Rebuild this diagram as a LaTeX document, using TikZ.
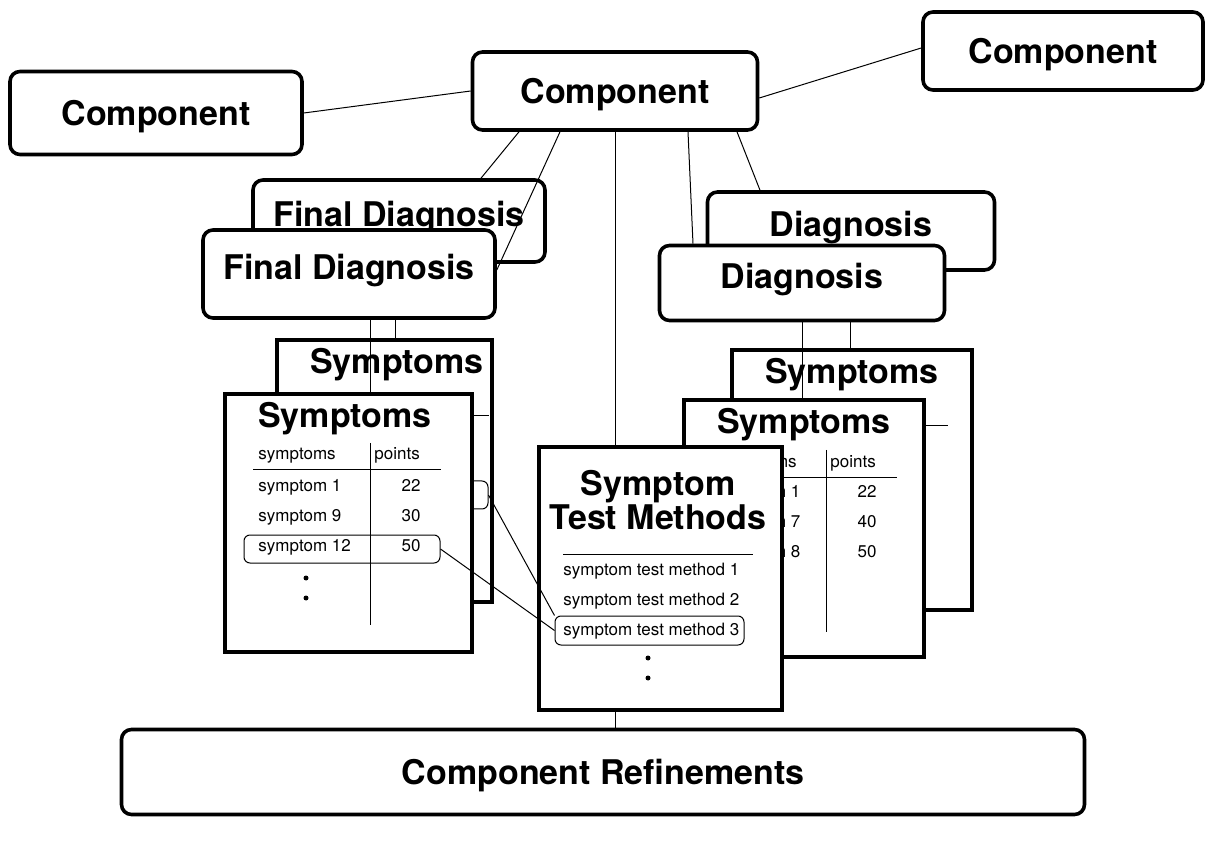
\documentclass[tikz,border=0pt]{standalone}
\usepackage{fontspec}
\setmainfont{TeX Gyre Heros}
\usetikzlibrary{positioning, calc}
\tikzset{
  compbox/.style={draw, line width=1.8pt, rounded corners=5pt, fill=white, inner sep=0pt, text depth=0pt, font=\bfseries\fontsize{17}{20}\selectfont},
  diagbox/.style={compbox, text depth=7pt},
  card/.style={draw, line width=1.8pt, fill=white, inner sep=0pt, anchor=north west},
  cardtitle/.style={font=\bfseries\fontsize{17}{20}\selectfont, inner sep=0pt, anchor=base},
  rowtext/.style={font=\fontsize{8.5}{10}\selectfont, inner sep=0pt},
  hilite/.style={draw, line width=0.5pt, rounded corners=3pt, inner sep=0pt},
  tabline/.style={line width=0.4pt},
  link/.style={line width=0.5pt},
  dot/.style={circle, fill, inner sep=0pt, minimum size=2.5pt},
}
\begin{document}
\begin{tikzpicture}[x=0.5pt, y=-0.5pt]
  \useasboundingbox[fill=white] (0,0) rectangle (1205,844);

  % diagnosis boxes (back ones first)
  \node[diagbox, minimum width=146pt, minimum height=41pt] (fdB) at (399,221) {Final Diagnosis};
  \node[diagbox, minimum width=143.5pt, minimum height=39pt] (dgB) at (851,231) {Diagnosis};
  \node[diagbox, minimum width=146pt, minimum height=44pt] (fdF) at (349,274) {Final Diagnosis};
  \node[diagbox, minimum width=142.5pt, minimum height=37.5pt] (dgF) at (802,283) {Diagnosis};

  % back symptom cards
  \node[card, minimum width=107.5pt, minimum height=131pt] (symLB) at (275,338) {};
  \node[cardtitle] (symLB-t) at (397,374) {Symptoms};
  \draw[tabline] (305,415) -- (489,415);
  \node[hilite, minimum width=96pt, minimum height=14pt] (hlLB) at (392,495) {};

  \node[card, minimum width=120pt, minimum height=130pt] (symRB) at (730,348) {};
  \node[cardtitle] (symRB-t) at (852,384) {Symptoms};
  \draw[tabline] (760,425) -- (948,425);

  % front symptom card, left
  \node[card, minimum width=123.5pt, minimum height=129pt] (symLF) at (223,392) {};
  \node[cardtitle] (symLF-t) at (345,428) {Symptoms};
  \node[rowtext, anchor=base west] (symLF-h1) at (258,460) {symptoms};
  \node[rowtext, anchor=base west] (symLF-h2) at (374,460) {points};
  \draw[tabline] (253,469) -- (441,469);
  \draw[tabline] (370,443) -- (370,625);
  \foreach \s/\v [count=\i] in {symptom 1/22, symptom 9/30, symptom 12/50} {
    \node[rowtext, anchor=base west] (symLF-s\i) at (258,462+30*\i) {\s};
    \node[rowtext, anchor=base east] (symLF-v\i) at (421,462+30*\i) {\v};
  }
  \node[hilite, minimum width=98pt, minimum height=14pt] (hlLF) at (342,549) {};
  \node[dot] (symLF-d1) at (306,578) {};
  \node[dot] (symLF-d2) at (306,598) {};

  % front symptom card, right
  \node[card, minimum width=120pt, minimum height=128.5pt] (symRF) at (682,398) {};
  \node[cardtitle] (symRF-t) at (804,434) {Symptoms};
  \node[rowtext, anchor=base west] (symRF-h1) at (719,468) {symptoms};
  \node[rowtext, anchor=base west] (symRF-h2) at (830,468) {points};
  \draw[tabline] (712,477) -- (897,477);
  \draw[tabline] (826,450) -- (826,632);
  \foreach \s/\v [count=\i] in {symptom 1/22, symptom 7/40, symptom 8/50} {
    \node[rowtext, anchor=base west] (symRF-s\i) at (717,468+30*\i) {\s};
    \node[rowtext, anchor=base east] (symRF-v\i) at (877,468+30*\i) {\v};
  }

  % symptom test methods
  \node[card, minimum width=121.5pt, minimum height=131.5pt] (stm) at (537,445) {};
  \node[cardtitle] (stm-t1) at (658,495) {Symptom};
  \node[cardtitle] (stm-t2) at (658,530) {Test Methods};
  \draw[tabline] (563,554) -- (753,554);
  \foreach \i in {1,2,3}
    \node[rowtext, anchor=base west] (stm-m\i) at (563,545+30*\i) {symptom test method \i};
  \node[hilite, minimum width=94.5pt, minimum height=14.5pt] (hlST) at (649.5,630.5) {};
  \node[dot] (stm-d1) at (648,658) {};
  \node[dot] (stm-d2) at (648,678) {};

  % components
  \node[compbox, minimum width=146pt, minimum height=41.5pt] (compL) at (156,113) {Component};
  \node[compbox, minimum width=142.5pt, minimum height=39pt] (compC) at (615,91) {Component};
  \node[compbox, minimum width=140pt, minimum height=39pt] (compR) at (1063,51) {Component};
  \node[compbox, minimum width=481.5pt, minimum height=42.5pt] (refine) at (603,772) {Component Refinements};

  % connectors
  \coordinate (fdF-a) at ([xshift=10.5pt]fdF.south);
  \coordinate (fdF-b) at ([xshift=23pt]fdF.south);
  \coordinate (dgF-b) at ([xshift=24pt]dgF.south);
  \draw[link] (compL.east) -- (compC.west);
  \draw[link] ([yshift=-3.5pt]compC.east) -- ([yshift=1.5pt]compR.west);
  \draw[link] ([xshift=-48pt]compC.south) -- ([xshift=41pt]fdB.north);
  \draw[link] ([xshift=-27.5pt]compC.south) -- ([yshift=2pt]fdF.east);
  \draw[link] (compC.south) -- (compC.south |- stm.north);
  \draw[link] ([xshift=36.5pt]compC.south) -- ([xshift=-54.5pt]dgF.north);
  \draw[link] ([xshift=61pt]compC.south) -- ([xshift=-45.5pt]dgB.north);
  \draw[link] (fdF-a) -- (fdF-a |- symLF.north);
  \draw[link] (fdF-b) -- (fdF-b |- symLB.north);
  \draw[link] (dgF.south) -- (dgF.south |- symRF.north);
  \draw[link] (dgF-b) -- (dgF-b |- symRB.north);
  \draw[link] (compC.south |- stm.south) -- (compC.south |- refine.north);
  \draw[link] (hlLB.east) -- (hlST.north west);
  \draw[link] (hlLF.east) -- (hlST.west);
\end{tikzpicture}
\end{document}
